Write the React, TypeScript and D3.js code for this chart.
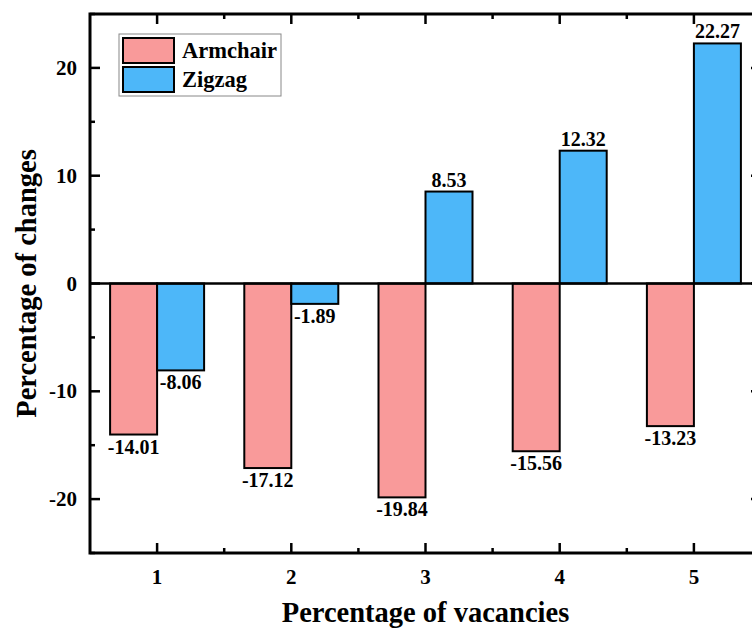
import React, { useEffect, useRef } from 'react'
import * as d3 from 'd3'

const categories = ['1', '2', '3', '4', '5']
const armchair = [-14.01, -17.12, -19.84, -15.56, -13.23]
const zigzag = [-8.06, -1.89, 8.53, 12.32, 22.27]
const yTicks = [-20, -10, 0, 10, 20]
const seriesNames = ['Armchair', 'Zigzag']
const colors = ['#F99A9A', '#4DB7F9']

const font = '"Liberation Serif", "Times New Roman", serif'

function App() {
    const ref = useRef<SVGSVGElement>(null)

    useEffect(() => {
        draw()
    }, [])

    const draw = () => {
        const svg = d3.select(ref.current)
        svg.selectAll('*').remove()

        const left = 90, right = 761, top = 14, bottom = 553

        const x = d3.scaleLinear().domain([0.5, 5.5]).range([left, right])
        const y = d3.scaleLinear().domain([-25, 25]).range([bottom, top])
        const barW = 47

        const g = svg.append('g')

        // bars + value labels
        const series = [armchair, zigzag]
        series.forEach((vals, si) => {
            g.selectAll(null)
                .data(vals)
                .enter()
                .append('rect')
                .attr('x', (d, i) => x(i + 1) - barW + si * barW)
                .attr('y', d => y(Math.max(0, d)))
                .attr('width', barW)
                .attr('height', d => Math.abs(y(d) - y(0)))
                .attr('fill', colors[si])
                .attr('stroke', '#000')
                .attr('stroke-width', 2)

            g.selectAll(null)
                .data(vals)
                .enter()
                .append('text')
                .attr('x', (d, i) => x(i + 1) - barW / 2 + si * barW)
                .attr('y', d => d >= 0 ? y(d) - 5 : y(d) + 19)
                .attr('text-anchor', 'middle')
                .style('font-family', font)
                .style('font-weight', 'bold')
                .style('font-size', '20px')
                .text(d => d.toFixed(2))
        })

        // zero line
        g.append('line')
            .attr('x1', left).attr('x2', right)
            .attr('y1', y(0)).attr('y2', y(0))
            .attr('stroke', '#000').attr('stroke-width', 2.5)

        // x ticks (bottom and top, inward)
        const xMajor = d3.range(1, 6)
        const xMinor = d3.range(1.5, 5.5, 1)
        xMajor.forEach(v => {
            g.append('line').attr('x1', x(v)).attr('x2', x(v)).attr('y1', bottom).attr('y2', bottom - 10).attr('stroke', '#000').attr('stroke-width', 2.5)
            g.append('line').attr('x1', x(v)).attr('x2', x(v)).attr('y1', top).attr('y2', top + 10).attr('stroke', '#000').attr('stroke-width', 2.5)
        })
        xMinor.forEach(v => {
            g.append('line').attr('x1', x(v)).attr('x2', x(v)).attr('y1', bottom).attr('y2', bottom - 5).attr('stroke', '#000').attr('stroke-width', 2.5)
            g.append('line').attr('x1', x(v)).attr('x2', x(v)).attr('y1', top).attr('y2', top + 5).attr('stroke', '#000').attr('stroke-width', 2.5)
        })
        g.selectAll(null)
            .data(categories)
            .enter()
            .append('text')
            .attr('x', (d, i) => x(i + 1))
            .attr('y', bottom + 31)
            .attr('text-anchor', 'middle')
            .style('font-family', font)
            .style('font-weight', 'bold')
            .style('font-size', '21px')
            .text(d => d)

        // y ticks (left and right, inward)
        const yMinor = d3.range(-25, 26, 5).filter(v => v % 10 !== 0)
        yTicks.forEach(v => {
            g.append('line').attr('x1', left).attr('x2', left + 10).attr('y1', y(v)).attr('y2', y(v)).attr('stroke', '#000').attr('stroke-width', 2.5)
            g.append('line').attr('x1', right).attr('x2', right - 10).attr('y1', y(v)).attr('y2', y(v)).attr('stroke', '#000').attr('stroke-width', 2.5)
        })
        yMinor.forEach(v => {
            g.append('line').attr('x1', left).attr('x2', left + 5).attr('y1', y(v)).attr('y2', y(v)).attr('stroke', '#000').attr('stroke-width', 2.5)
            g.append('line').attr('x1', right).attr('x2', right - 5).attr('y1', y(v)).attr('y2', y(v)).attr('stroke', '#000').attr('stroke-width', 2.5)
        })
        g.selectAll(null)
            .data(yTicks)
            .enter()
            .append('text')
            .attr('x', left - 13)
            .attr('y', d => y(d) + 7)
            .attr('text-anchor', 'end')
            .style('font-family', font)
            .style('font-weight', 'bold')
            .style('font-size', '21px')
            .text(d => d)

        // frame
        g.append('rect')
            .attr('x', left).attr('y', top)
            .attr('width', right - left).attr('height', bottom - top)
            .attr('fill', 'none').attr('stroke', '#000').attr('stroke-width', 3)

        // axis titles
        svg.append('text')
            .attr('transform', `translate(36,${(top + bottom) / 2}) rotate(-90)`)
            .attr('text-anchor', 'middle')
            .style('font-family', font)
            .style('font-weight', 'bold')
            .style('font-size', '28.5px')
            .text('Percentage of changes')
        svg.append('text')
            .attr('x', (left + right) / 2)
            .attr('y', 622)
            .attr('text-anchor', 'middle')
            .style('font-family', font)
            .style('font-weight', 'bold')
            .style('font-size', '28.5px')
            .text('Percentage of vacancies')

        // legend
        const lg = svg.append('g').attr('transform', 'translate(119,34)')
        lg.append('rect').attr('width', 162).attr('height', 62).attr('fill', '#fff').attr('stroke', '#888').attr('stroke-width', 1)
        seriesNames.forEach((name, i) => {
            lg.append('rect')
                .attr('x', 4).attr('y', 4 + i * 29)
                .attr('width', 51).attr('height', 25)
                .attr('fill', colors[i]).attr('stroke', '#000').attr('stroke-width', 2)
            lg.append('text')
                .attr('x', 63).attr('y', 24 + i * 29)
                .style('font-family', font)
                .style('font-weight', 'bold')
                .style('font-size', '22.5px')
                .text(name)
        })
    }

    return (
        <svg ref={ref} width={752} height={631} style={{ position: 'absolute', left: 0, top: 0, background: '#fff' }}></svg>
    )
}

export default App
